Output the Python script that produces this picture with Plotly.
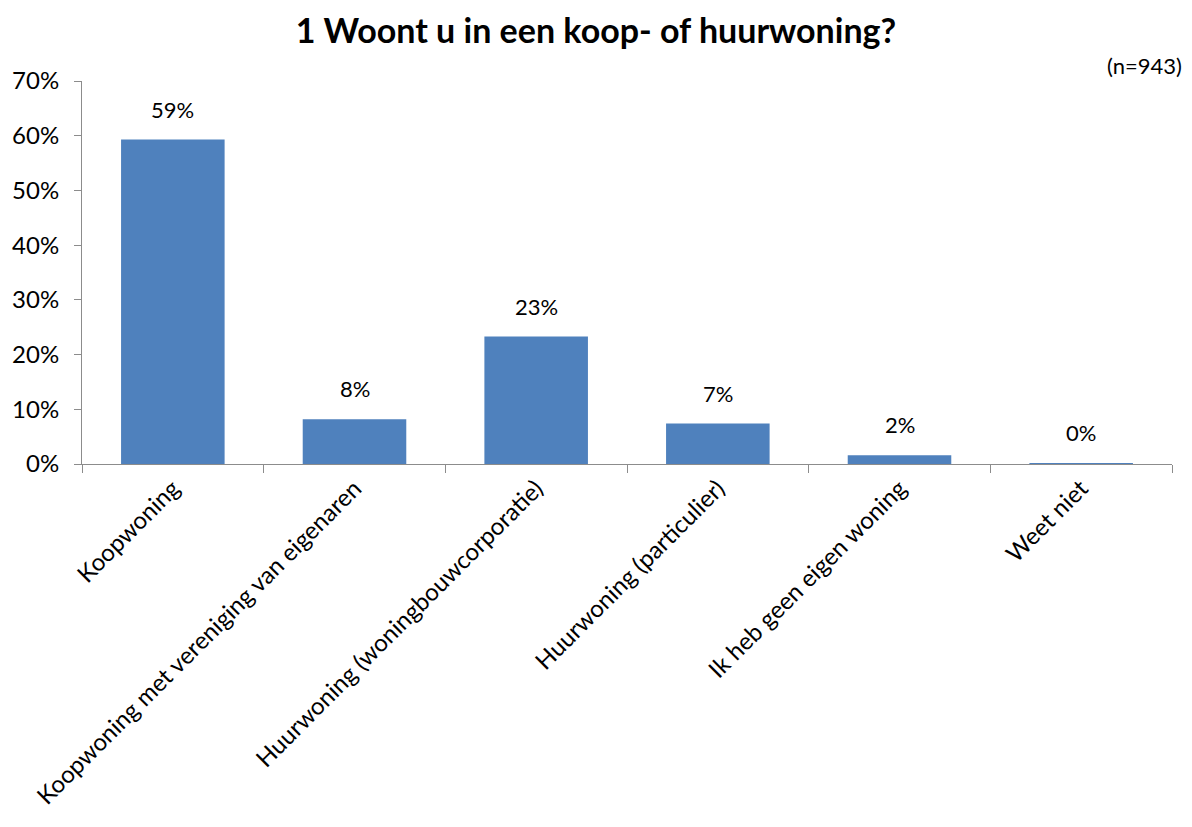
import plotly.graph_objects as go

# Survey answers and share of respondents (percent)
categories = [
    "Koopwoning",
    "Koopwoning met vereniging van eigenaren",
    "Huurwoning (woningbouwcorporatie)",
    "Huurwoning (particulier)",
    "Ik heb geen eigen woning",
    "Weet niet",
]
shares = [59.3, 8.2, 23.3, 7.4, 1.6, 0.15]
y_ticks = [0, 10, 20, 30, 40, 50, 60, 70]
y_tick_labels = [f"{v}%" for v in y_ticks]

title_text = "1 Woont u in een koop- of huurwoning?"
sample_note = "(n=943)"

FONT = "Lato, Open Sans, sans-serif"
BAR_COLOR = "#4F81BD"
AXIS_COLOR = "#8C8C8C"

fig = go.Figure(
    go.Bar(
        x=categories,
        y=shares,
        marker=dict(color=BAR_COLOR, line=dict(width=0)),
        hovertemplate="%{x}: %{y:.0f}%<extra></extra>",
    )
)

# Value labels above each bar
for cat, val in zip(categories, shares):
    fig.add_annotation(
        x=cat, y=val, xref="x", yref="y",
        text=f"{val:.0f}%", showarrow=False,
        yanchor="bottom", yshift=15,
        font=dict(family=FONT, size=22, color="#000000"),
    )

fig.add_annotation(
    x=1.0, y=1.0, xref="paper", yref="paper",
    xanchor="right", yanchor="bottom", yshift=0, xshift=12,
    text=sample_note, showarrow=False,
    font=dict(family=FONT, size=22, color="#000000"),
)

fig.update_layout(
    width=1192, height=827,
    margin=dict(l=82, r=20, t=81, b=363),
    paper_bgcolor="white", plot_bgcolor="white",
    bargap=0.43,
    showlegend=False,
    title=dict(
        text=f"<b>{title_text}</b>",
        x=0.5, xanchor="center", y=0.962, yanchor="middle",
        font=dict(family=FONT, size=34, color="#000000"),
    ),
    font=dict(family=FONT, size=22, color="#000000"),
)

fig.update_xaxes(
    type="category",
    tickangle=-45,
    tickson="boundaries",
    ticks="outside", ticklen=8, tickcolor=AXIS_COLOR, tickwidth=1,
    showline=True, linecolor=AXIS_COLOR, linewidth=1,
    showgrid=False,
    tickfont=dict(family=FONT, size=24, color="#000000"),
)

fig.update_yaxes(
    range=[0, 70],
    tickvals=y_ticks, ticktext=y_tick_labels,
    ticks="outside", ticklen=7, tickcolor=AXIS_COLOR, tickwidth=1,
    ticklabelstandoff=10,
    showline=True, linecolor=AXIS_COLOR, linewidth=1,
    showgrid=False, zeroline=False,
    tickfont=dict(family=FONT, size=24, color="#000000"),
)

fig.write_html("out.html")
